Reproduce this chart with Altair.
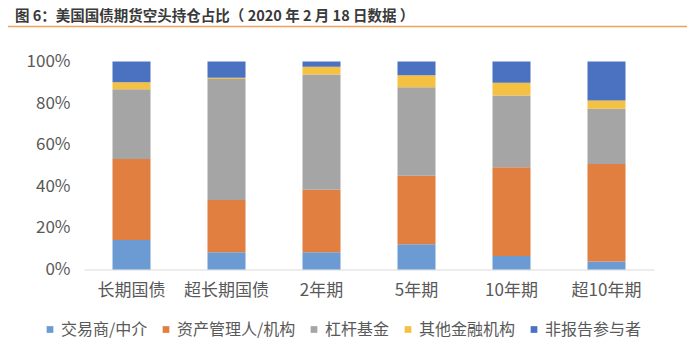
import altair as alt
import pandas as pd

categories = ["长期国债", "超长期国债", "2年期", "5年期", "10年期", "超10年期"]
series = ["交易商/中介", "资产管理人/机构", "杠杆基金", "其他金融机构", "非报告参与者"]
dealer = [14.2, 8.3, 8.3, 12.1, 6.5, 3.8]
asset_mgr = [38.9, 25.1, 30.1, 33.0, 42.6, 46.9]
leveraged = [33.5, 58.2, 55.3, 42.5, 34.6, 26.6]
other_fin = [3.4, 0.6, 3.8, 5.8, 6.1, 3.9]
nonrept = [10.0, 7.8, 2.5, 6.6, 10.2, 18.8]
colors = ["#6b9bd2", "#e07f3f", "#a5a5a5", "#f5c142", "#4a72c0"]
title_text = "图 6：美国国债期货空头持仓占比（ 2020 年 2 月 18 日数据 ）"

rows = []
for si, (name, vals) in enumerate(zip(series, [dealer, asset_mgr, leveraged, other_fin, nonrept])):
    for c, v in zip(categories, vals):
        rows.append({"cat": c, "series": name, "value": v / 100.0, "order": si})
df = pd.DataFrame(rows)

font = "Noto Sans CJK SC"

bars = alt.Chart(df).mark_bar().encode(
    x=alt.X("cat:N", sort=categories,
            scale=alt.Scale(paddingInner=0.6, paddingOuter=0.3),
            axis=alt.Axis(title=None, labelAngle=0, ticks=False, domainColor="#d9d9d9",
                          labelFontSize=17, labelColor="#595959", labelPadding=13,
                          labelFont=font)),
    y=alt.Y("value:Q", stack="zero",
            scale=alt.Scale(domain=[0, 1], nice=False),
            axis=alt.Axis(title=None, format=".0%", values=[0, 0.2, 0.4, 0.6, 0.8, 1.0],
                          grid=False, domain=False, ticks=False, labelFontSize=17,
                          labelColor="#595959", labelPadding=14, labelFont=font)),
    color=alt.Color("series:N", sort=series,
                    scale=alt.Scale(domain=series, range=colors),
                    legend=alt.Legend(title=None, orient="none", direction="horizontal",
                                      legendX=-42, legendY=260, columns=5,
                                      symbolType="square", symbolSize=45,
                                      symbolStrokeWidth=0, labelFontSize=16,
                                      labelColor="#595959", labelFont=font,
                                      columnPadding=10, symbolOffset=0, labelOffset=3)),
    order=alt.Order("order:Q", sort="ascending"),
)

one = pd.DataFrame({"t": [title_text]})
title = alt.Chart(one).mark_text(
    align="left", baseline="middle", fontSize=14.5, fontWeight="bold",
    font=font, color="#3a3a3a"
).encode(text="t:N", x=alt.value(-69), y=alt.value(-44.5))

line = alt.Chart(one).mark_rule(color="#f0a05a", strokeWidth=1.5).encode(
    x=alt.value(-80), x2=alt.value(603), y=alt.value(-35)
)

chart = alt.layer(bars, title, line).properties(
    width=570, height=208,
    autosize=alt.AutoSizeParams(type="none"),
    padding={"left": 76, "top": 53.5, "right": 38, "bottom": 79},
).configure_view(stroke=None)

chart.save("out.html", embed_options={"renderer": "svg", "actions": False})
